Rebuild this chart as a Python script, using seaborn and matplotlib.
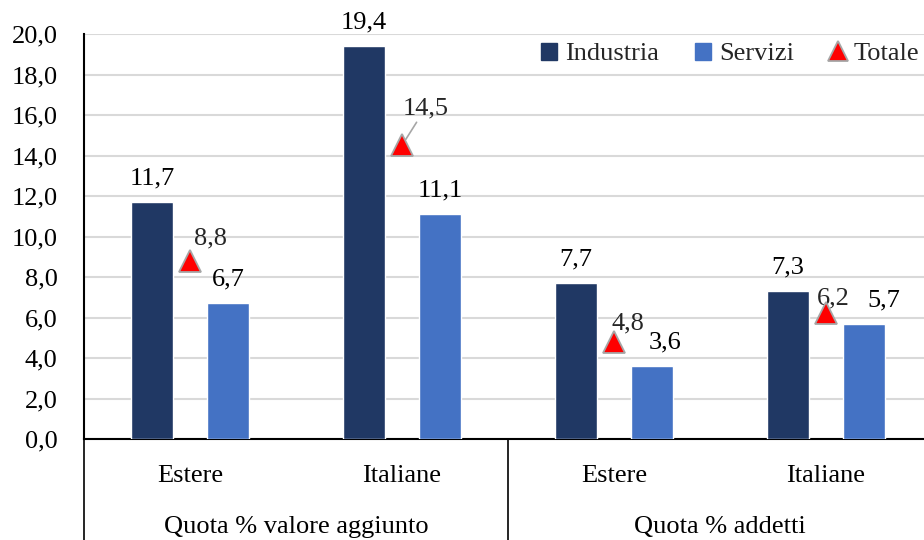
import matplotlib
matplotlib.use("Agg")
import matplotlib.pyplot as plt
from matplotlib.lines import Line2D
from matplotlib.patches import Patch
from matplotlib.ticker import FuncFormatter, MultipleLocator
import seaborn as sns
import pandas as pd

# Data
groups = ["Quota % valore aggiunto", "Quota % addetti"]
ownership = ["Estere", "Italiane", "Estere", "Italiane"]
industria = [11.7, 19.4, 7.7, 7.3]
servizi = [6.7, 11.1, 3.6, 5.7]
totale = [8.8, 14.5, 4.8, 6.2]

keys = [f"{o} ({groups[i // 2]})" for i, o in enumerate(ownership)]

bars = pd.DataFrame({
    "cat": keys * 2,
    "settore": ["Industria"] * 4 + ["Servizi"] * 4,
    "valore": industria + servizi,
})
tot = pd.DataFrame({"cat": keys, "valore": totale})

sns.set_theme(style="white")
plt.rcParams["font.family"] = ["Liberation Serif", "DejaVu Serif"]
FS = 19

c_ind = "#203864"
c_ser = "#4472C4"
c_tri = "#FF0000"
c_tri_edge = "#A6A6A6"

fig = plt.figure(figsize=(9.24, 5.40), dpi=100)
ax = fig.add_axes([84 / 924, 101 / 540, 848 / 924, 405 / 540])

sns.barplot(data=bars, x="cat", y="valore", hue="settore", order=keys,
            hue_order=["Industria", "Servizi"],
            palette=[c_ind, c_ser], width=0.72, gap=0.444,
            saturation=1, ax=ax, legend=False, zorder=3)

PAD = 9
label_sets = []
for cont in ax.containers:
    label_sets.append(ax.bar_label(
        cont, labels=[f"{v:.1f}".replace(".", ",") for v in cont.datavalues],
        padding=PAD, fontsize=FS, color="#000000"))

# Nudge the Servizi labels that would crowd the Totale labels
for idx, dx in [(2, 9), (3, 14)]:
    label_sets[1][idx].xyann = (dx, PAD)

sns.pointplot(data=tot, x="cat", y="valore", order=keys, linestyle="none",
              marker="^", markersize=16, color=c_tri,
              markeredgecolor=c_tri_edge, markeredgewidth=1.3,
              errorbar=None, ax=ax, zorder=5)

# Totale value labels, placed up and to the right of each marker
offsets = [(15, 8), (17, 19), (10, 5), (5, 3)]
for i, (v, off) in enumerate(zip(totale, offsets)):
    txt = f"{v:.1f}".replace(".", ",")
    if i == 1:
        ax.annotate(txt, xy=(i, v), xytext=off, textcoords="offset points",
                    fontsize=FS, ha="center", va="bottom",
                    arrowprops=dict(arrowstyle="-", color=c_tri_edge, lw=1.2,
                                    shrinkA=0, shrinkB=5))
    else:
        ax.annotate(txt, xy=(i, v), xytext=off, textcoords="offset points",
                    fontsize=FS, ha="center", va="bottom")

ax.set_ylim(0, 20)
ax.set_xlim(-0.5, 3.5)
ax.yaxis.set_major_locator(MultipleLocator(2))
ax.yaxis.set_major_formatter(FuncFormatter(lambda v, p: f"{v:.1f}".replace(".", ",")))
ax.grid(axis="y", color="#D9D9D9", lw=1.5, zorder=0)
ax.grid(axis="x", visible=False)
ax.set_axisbelow(True)
ax.set_xlabel("")
ax.set_ylabel("")
ax.tick_params(axis="y", length=0, pad=19, labelsize=FS, labelcolor="#000000")
ax.tick_params(axis="x", length=0, pad=19, labelsize=FS, labelcolor="#000000")
ax.set_xticks(range(4))
ax.set_xticklabels(ownership)

for s in ["top", "right"]:
    ax.spines[s].set_visible(False)
ax.spines["left"].set_color("#000000")
ax.spines["left"].set_linewidth(1.5)
ax.spines["bottom"].set_color("#000000")
ax.spines["bottom"].set_linewidth(1.5)

# Two-level category axis: separators and group titles
ybot = -101 / 405
for xf in [0.0, 0.5, 1.0]:
    ax.add_line(Line2D([xf, xf], [0, ybot], transform=ax.transAxes,
                       color="#000000", lw=1.2, clip_on=False))
for gi, g in enumerate(groups):
    ax.text(0.25 + 0.5 * gi, -88 / 405, g, transform=ax.transAxes,
            ha="center", va="center", fontsize=FS, color="#000000")

handles = [
    Patch(facecolor=c_ind, edgecolor=c_ind, label="Industria"),
    Patch(facecolor=c_ser, edgecolor=c_ser, label="Servizi"),
    Line2D([], [], linestyle="none", marker="^", markersize=14, color=c_tri,
           markeredgecolor=c_tri_edge, markeredgewidth=1.3, label="Totale"),
]
fig.legend(handles=handles, loc="center left", bbox_to_anchor=(541 / 924, 1 - 54 / 540),
           ncol=3, frameon=False, fontsize=FS, handlelength=0.62, handleheight=0.62,
           handletextpad=0.3, columnspacing=1.35, borderaxespad=0, borderpad=0)

fig.savefig("out.png", dpi=100)
